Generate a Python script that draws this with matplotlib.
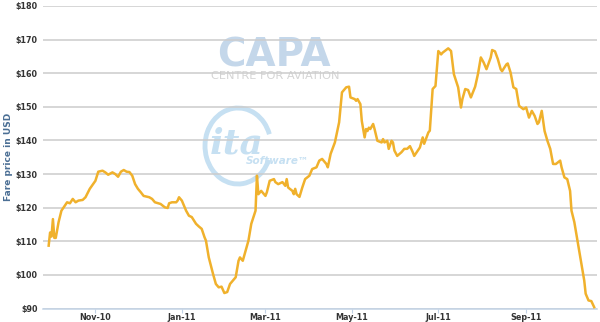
import matplotlib
matplotlib.use("Agg")
import matplotlib.pyplot as plt
import matplotlib.dates as mdates
from matplotlib.patches import Arc
import pandas as pd

# fare values
dates = [
    "2010-09-29", "2010-09-30", "2010-10-01", "2010-10-02", "2010-10-03", "2010-10-04",
    "2010-10-06", "2010-10-08", "2010-10-12", "2010-10-14", "2010-10-16", "2010-10-18",
    "2010-10-20", "2010-10-23", "2010-10-25", "2010-10-28", "2010-11-01", "2010-11-03",
    "2010-11-06", "2010-11-08", "2010-11-10", "2010-11-13", "2010-11-15", "2010-11-17",
    "2010-11-19", "2010-11-21", "2010-11-23", "2010-11-25", "2010-11-27", "2010-11-29",
    "2010-12-01", "2010-12-03", "2010-12-05", "2010-12-09", "2010-12-11", "2010-12-13",
    "2010-12-17", "2010-12-20", "2010-12-22", "2010-12-23", "2010-12-25", "2010-12-28",
    "2010-12-29", "2010-12-30", "2011-01-01", "2011-01-04", "2011-01-06", "2011-01-08",
    "2011-01-11", "2011-01-13", "2011-01-15", "2011-01-17", "2011-01-18", "2011-01-20",
    "2011-01-23", "2011-01-25", "2011-01-27", "2011-01-29", "2011-01-31", "2011-02-02",
    "2011-02-04", "2011-02-08", "2011-02-10", "2011-02-11", "2011-02-13", "2011-02-15",
    "2011-02-17", "2011-02-19", "2011-02-22", "2011-02-23", "2011-02-24", "2011-02-26",
    "2011-03-01", "2011-03-02", "2011-03-04", "2011-03-07", "2011-03-08", "2011-03-10",
    "2011-03-13", "2011-03-15", "2011-03-16", "2011-03-17", "2011-03-20", "2011-03-21",
    "2011-03-22", "2011-03-23", "2011-03-25", "2011-03-27", "2011-03-29", "2011-04-01",
    "2011-04-03", "2011-04-06", "2011-04-08", "2011-04-10", "2011-04-11", "2011-04-13",
    "2011-04-14", "2011-04-16", "2011-04-19", "2011-04-21", "2011-04-22", "2011-04-23",
    "2011-04-24", "2011-04-27", "2011-04-29", "2011-04-30", "2011-05-03", "2011-05-04",
    "2011-05-05", "2011-05-07", "2011-05-08", "2011-05-10", "2011-05-11", "2011-05-12",
    "2011-05-13", "2011-05-14", "2011-05-16", "2011-05-17", "2011-05-19", "2011-05-22",
    "2011-05-23", "2011-05-24", "2011-05-26", "2011-05-27", "2011-05-29", "2011-05-30",
    "2011-05-31", "2011-06-02", "2011-06-05", "2011-06-07", "2011-06-09", "2011-06-11",
    "2011-06-13", "2011-06-14", "2011-06-18", "2011-06-20", "2011-06-21", "2011-06-24",
    "2011-06-25", "2011-06-27", "2011-06-29", "2011-07-01", "2011-07-03", "2011-07-04",
    "2011-07-07", "2011-07-08", "2011-07-10", "2011-07-12", "2011-07-15", "2011-07-17",
    "2011-07-18", "2011-07-20", "2011-07-22", "2011-07-24", "2011-07-27", "2011-07-29",
    "2011-07-31", "2011-08-02", "2011-08-04", "2011-08-07", "2011-08-08", "2011-08-10",
    "2011-08-12", "2011-08-14", "2011-08-15", "2011-08-18", "2011-08-19", "2011-08-21",
    "2011-08-23", "2011-08-25", "2011-08-27", "2011-08-30", "2011-09-01", "2011-09-03",
    "2011-09-05", "2011-09-07", "2011-09-09", "2011-09-10", "2011-09-12", "2011-09-14",
    "2011-09-16", "2011-09-18", "2011-09-20", "2011-09-22", "2011-09-25", "2011-09-26",
    "2011-09-28", "2011-09-30", "2011-10-02", "2011-10-03", "2011-10-05", "2011-10-08",
    "2011-10-10", "2011-10-12", "2011-10-13", "2011-10-15", "2011-10-17", "2011-10-19",
]
fares = [
    108.7, 112.6, 111.4, 116.6, 111.0, 111.0,
    115.7, 119.1, 121.6, 121.3, 122.6, 121.6,
    122.1, 122.3, 123.1, 125.6, 128.0, 130.7,
    131.0, 130.5, 129.8, 130.5, 130.0, 129.2,
    130.7, 131.2, 130.7, 130.6, 129.5, 127.0,
    125.6, 124.6, 123.5, 123.1, 122.6, 121.6,
    121.1, 120.1, 119.9, 121.3, 121.6, 121.6,
    122.1, 123.1, 122.1, 119.1, 117.6, 117.2,
    115.2, 114.4, 113.7, 111.2, 110.2, 105.2,
    100.3, 97.3, 96.3, 96.5, 94.6, 94.9,
    97.3, 99.3, 104.2, 105.2, 104.2, 107.2,
    110.2, 115.2, 119.1, 129.5, 124.0, 125.0,
    123.5, 124.6, 128.0, 128.5, 127.6, 127.0,
    127.6, 126.5, 128.5, 126.0, 125.0, 124.0,
    125.6, 124.0, 123.2, 126.0, 128.5, 129.5,
    131.5, 132.0, 134.0, 134.5, 134.0, 133.0,
    132.0, 136.0, 139.4, 143.4, 145.4, 149.8,
    154.3, 155.8, 156.0, 152.8, 152.3, 151.8,
    152.3, 150.8, 145.8, 140.9, 143.4, 142.8,
    143.8, 143.4, 144.9, 143.4, 139.9, 139.4,
    140.4, 139.4, 139.9, 137.5, 139.9, 139.4,
    137.0, 135.4, 136.5, 137.5, 137.5, 138.3,
    136.5, 135.4, 137.9, 140.9, 139.0, 142.4,
    142.9, 155.3, 156.2, 166.6, 165.6, 166.1,
    167.1, 167.4, 166.6, 159.7, 155.8, 149.8,
    152.3, 155.3, 155.0, 152.8, 156.0, 159.8,
    164.7, 163.2, 161.2, 164.7, 166.9, 166.5,
    164.2, 161.2, 160.6, 162.6, 162.9, 160.2,
    155.8, 155.3, 150.3, 149.3, 149.8, 146.8,
    148.8, 147.3, 144.9, 145.4, 148.8, 142.8,
    139.9, 137.5, 133.0, 133.0, 134.0, 132.0,
    129.0, 128.5, 125.0, 119.1, 115.7, 108.3,
    103.3, 98.3, 94.4, 92.4, 92.2, 90.4,
]
y_ticks = [90, 100, 110, 120, 130, 140, 150, 160, 170, 180]
x_ticks = ["2010-11-01", "2011-01-01", "2011-03-01", "2011-05-01", "2011-07-01", "2011-09-01"]

dates = pd.to_datetime(dates)
x_ticks = pd.to_datetime(x_ticks)

fig = plt.figure(figsize=(6, 3.22), dpi=100)
ax = fig.add_axes([43 / 600, 1 - 308.5 / 322, 554 / 600, 302.5 / 322])

# watermarks (CAPA + ita logo)
wm = dict(transform=fig.transFigure, zorder=0.5)
ax.text(274 / 600, 1 - 66 / 322, "CAPA", fontsize=28, fontweight="heavy",
        color="#c4d7ea", ha="center", va="baseline", **wm)
ax.text(275 / 600, 1 - 79 / 322, "CENTRE FOR AVIATION", fontsize=8.2,
        color="#d4d4d4", ha="center", va="baseline", **wm)
ax.text(237 / 600, 1 - 154 / 322, "ita", fontsize=26, fontstyle="italic",
        fontweight="bold", family="DejaVu Serif", color="#c6e0f2",
        ha="center", va="baseline", **wm)
ax.text(277 / 600, 1 - 164 / 322, "Software\u2122", fontsize=7.5, fontstyle="italic",
        fontweight="bold", color="#c6e0f2", ha="center", va="baseline", **wm)
arc = Arc((238 / 600, 1 - 146 / 322), 66 / 600, 76 / 322, theta1=35, theta2=320,
          transform=fig.transFigure, color="#c6e0f2", lw=3.5, zorder=0.5)
ax.add_patch(arc)

ax.plot(dates, fares, color="#f0b12c", lw=1.8, zorder=3, solid_joinstyle="round")

ax.set_ylim(90, 180)
ax.set_xlim(pd.Timestamp("2010-09-25"), pd.Timestamp("2011-10-21"))
ax.set_yticks(y_ticks)
ax.set_yticklabels([f"${v}" for v in y_ticks])
ax.set_xticks(x_ticks)
ax.xaxis.set_major_formatter(mdates.DateFormatter("%b-%y"))

ax.grid(axis="y", color="#cccccc", lw=1.1)
ax.set_axisbelow(True)
for side in ["top", "right", "left"]:
    ax.spines[side].set_visible(False)
ax.spines["bottom"].set_color("#c2d3e6")
ax.spines["bottom"].set_linewidth(1.1)
ax.tick_params(axis="y", length=0, pad=4, labelsize=5.8, labelcolor="#333333")
ax.tick_params(axis="x", length=3, color="#c2d3e6", pad=0.5, labelsize=5.8,
               labelcolor="#333333")
for lbl in ax.get_xticklabels() + ax.get_yticklabels():
    lbl.set_fontweight("bold")

ax.set_ylabel("Fare price in USD", fontsize=6.5, fontweight="bold", color="#4b6f95")
ax.yaxis.set_label_coords(-30 / 554, 0.5)

fig.savefig("out.png", dpi=100)
